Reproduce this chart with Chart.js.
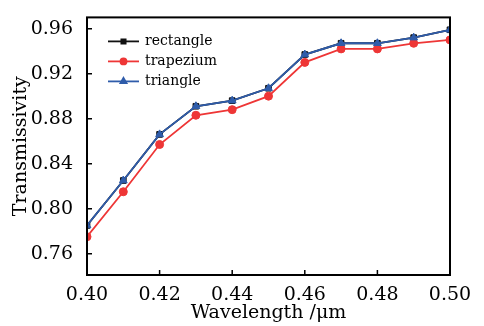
<!DOCTYPE html>
<html>
<head>
<meta charset="utf-8">
<script src="https://cdn.jsdelivr.net/npm/chart.js@4.4.0/dist/chart.umd.min.js"></script>
<style>
    html, body { margin: 0; padding: 0; background: #fff; }
    #wrap { width: 484px; height: 326px; }
</style>
</head>
<body>
<div id="wrap"><canvas id="myChart" width="484" height="326"></canvas></div>
<script>
// wavelength (um)
var wavelength = [0.40, 0.41, 0.42, 0.43, 0.44, 0.45, 0.46, 0.47, 0.48, 0.49, 0.50];
// transmissivity of each shape
var rectangle = [0.785, 0.825, 0.866, 0.891, 0.896, 0.907, 0.937, 0.947, 0.947, 0.952, 0.959];
var trapezium = [0.775, 0.815, 0.857, 0.883, 0.888, 0.900, 0.930, 0.942, 0.942, 0.947, 0.950];
var triangle  = [0.785, 0.825, 0.866, 0.891, 0.896, 0.907, 0.937, 0.947, 0.947, 0.952, 0.959];
var seriesNames = ['rectangle', 'trapezium', 'triangle'];
var xTicks = [0.40, 0.42, 0.44, 0.46, 0.48, 0.50];
var yTicks = [0.76, 0.80, 0.84, 0.88, 0.92, 0.96];

var serif = "'DejaVu Serif', 'Liberation Serif', serif";

function toPoints(ys) {
    return wavelength.map(function (x, i) { return { x: x, y: ys[i] }; });
}

function makeSet(name, ys, color, shape, radius, order) {
    return {
        label: name,
        data: toPoints(ys),
        order: order,
        borderColor: color,
        backgroundColor: color,
        borderWidth: 1.8,
        pointStyle: shape,
        pointRadius: radius,
        pointBorderWidth: 1,
        pointBackgroundColor: color,
        pointBorderColor: color,
        tension: 0
    };
}

// frame, inward ticks and legend inside the plot
var framePlugin = {
    id: 'frame',
    afterDraw: function (chart) {
        var ctx = chart.ctx;
        var a = chart.chartArea;
        var xs = chart.scales.x, ys = chart.scales.y;
        ctx.save();
        ctx.strokeStyle = '#000';
        ctx.lineWidth = 2;
        ctx.strokeRect(a.left, a.top, a.right - a.left, a.bottom - a.top);
        ctx.lineWidth = 1.5;
        ctx.beginPath();
        xTicks.forEach(function (v) {
            var px = xs.getPixelForValue(v);
            ctx.moveTo(px, a.bottom);
            ctx.lineTo(px, a.bottom - 5);
        });
        yTicks.forEach(function (v) {
            var py = ys.getPixelForValue(v);
            ctx.moveTo(a.left, py);
            ctx.lineTo(a.left + 5, py);
        });
        ctx.stroke();

        // legend
        ctx.font = "14px " + serif;
        ctx.textBaseline = 'middle';
        ctx.textAlign = 'left';
        chart.data.datasets.forEach(function (ds, i) {
            var y = a.top + 24 + i * 20;
            var x0 = a.left + 21;
            ctx.strokeStyle = ds.borderColor;
            ctx.lineWidth = 1.8;
            ctx.beginPath();
            ctx.moveTo(x0, y);
            ctx.lineTo(x0 + 31, y);
            ctx.stroke();
            ctx.fillStyle = ds.borderColor;
            Chart.helpers.drawPoint(ctx, { pointStyle: ds.pointStyle, radius: ds.pointRadius - 1, borderWidth: 1, rotation: 0 }, x0 + 15.5, y);
            ctx.fill();
            ctx.fillStyle = '#000';
            ctx.fillText(ds.label, x0 + 37, y);
        });
        ctx.restore();
    }
};

var config = {
    type: 'line',
    data: {
        datasets: [
            makeSet(seriesNames[0], rectangle, '#111111', 'rect', 4, 2),
            makeSet(seriesNames[1], trapezium, '#ee3636', 'circle', 4, 1),
            makeSet(seriesNames[2], triangle, '#2f5caa', 'triangle', 4.5, 0)
        ]
    },
    options: {
        responsive: false,
        animation: false,
        layout: { padding: { top: 6, right: 34, left: 0, bottom: 0 } },
        plugins: {
            legend: { display: false },
            tooltip: { enabled: false }
        },
        scales: {
            x: {
                type: 'linear',
                min: 0.40,
                max: 0.50,
                grid: { display: false },
                border: { display: false },
                afterBuildTicks: function (scale) {
                    scale.ticks = xTicks.map(function (v) { return { value: v }; });
                },
                afterFit: function (scale) { scale.height = 51; },
                ticks: {
                    color: '#000',
                    padding: 1,
                    maxRotation: 0,
                    font: { family: serif, size: 19 },
                    callback: function (v) { return v.toFixed(2); }
                },
                title: {
                    display: true,
                    text: 'Wavelength /\u03bcm',
                    color: '#000',
                    padding: { top: 0, bottom: 2 },
                    font: { family: serif, size: 19 }
                }
            },
            y: {
                min: 0.741,
                max: 0.970,
                grid: { display: false },
                border: { display: false },
                afterBuildTicks: function (scale) {
                    scale.ticks = yTicks.map(function (v) { return { value: v }; });
                },
                afterFit: function (scale) { scale.width = 87; },
                ticks: {
                    color: '#000',
                    padding: 6,
                    font: { family: serif, size: 19 },
                    callback: function (v) { return v.toFixed(2); }
                },
                title: {
                    display: true,
                    text: 'Transmissivity',
                    color: '#000',
                    padding: { top: 10, bottom: 0 },
                    font: { family: serif, size: 19 }
                }
            }
        }
    },
    plugins: [framePlugin]
};

new Chart(document.getElementById('myChart'), config);
</script>
</body>
</html>
